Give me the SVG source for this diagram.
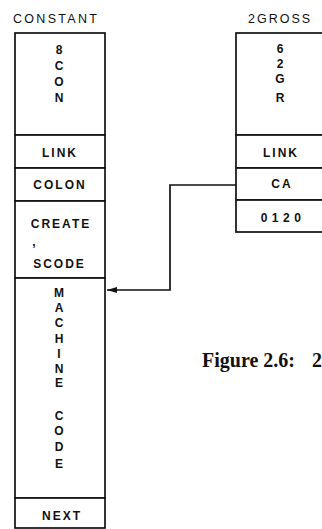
<svg xmlns="http://www.w3.org/2000/svg" width="322" height="529" viewBox="0 0 322 529">
<style>
.box{fill:#fff;stroke:#111;stroke-width:1.7}
.t{font-family:"Liberation Sans",Arial,sans-serif;font-weight:bold;font-size:12px;fill:#111;text-anchor:middle;letter-spacing:2px}
.v{font-family:"Liberation Sans",Arial,sans-serif;font-weight:bold;font-size:12px;fill:#111;text-anchor:middle}
.h{font-family:"Liberation Sans",Arial,sans-serif;font-size:12.5px;fill:#111;letter-spacing:2.3px}
.c{fill:none;stroke:#111;stroke-width:1.7}
.cap{font-family:"Liberation Serif","Times New Roman",serif;font-weight:bold;font-size:20px;fill:#111}
</style>
<defs>
<marker id="ah" viewBox="0 0 10 6" refX="10" refY="3" markerWidth="10" markerHeight="6" orient="auto" markerUnits="userSpaceOnUse">
<path d="M0,0 L10,3 L0,6 z" fill="#111"/>
</marker>
</defs>
<rect width="322" height="529" fill="#fff"/>

<g id="constant">
<text class="h" x="13" y="22.5">CONSTANT</text>
<rect class="box" x="15" y="33" width="90" height="102"/>
<text class="v" x="59" y="54">8</text>
<text class="v" x="59" y="70">C</text>
<text class="v" x="59" y="86">O</text>
<text class="v" x="59" y="102">N</text>
<rect class="box" x="15" y="135" width="90" height="33"/>
<text class="t" x="60" y="157">LINK</text>
<rect class="box" x="15" y="168" width="90" height="33"/>
<text class="t" x="60" y="189">COLON</text>
<rect class="box" x="15" y="201" width="90" height="77"/>
<text class="t" x="61" y="227.5">CREATE</text>
<text class="v" x="34" y="246">,</text>
<text class="t" x="59.5" y="267.5">SCODE</text>
<rect class="box" x="15" y="278" width="90" height="220"/>
<text class="v" x="59" y="297">M</text>
<text class="v" x="59" y="312">A</text>
<text class="v" x="59" y="327">C</text>
<text class="v" x="59" y="343">H</text>
<text class="v" x="59" y="358">I</text>
<text class="v" x="59" y="373">N</text>
<text class="v" x="59" y="387">E</text>
<text class="v" x="59" y="420">C</text>
<text class="v" x="59" y="435">O</text>
<text class="v" x="59" y="451">D</text>
<text class="v" x="59" y="468">E</text>
<rect class="box" x="15" y="498" width="90" height="30"/>
<text class="t" x="62" y="520">NEXT</text>
</g>

<g id="twogross">
<text class="h" x="248" y="22.5" style="letter-spacing:2px">2GROSS</text>
<rect class="box" x="236" y="33" width="100" height="102"/>
<text class="v" x="280" y="53">6</text>
<text class="v" x="280" y="68">2</text>
<text class="v" x="280" y="83">G</text>
<text class="v" x="280" y="102">R</text>
<rect class="box" x="236" y="135" width="100" height="33"/>
<text class="t" x="281" y="157">LINK</text>
<rect class="box" x="236" y="168" width="100" height="32"/>
<text class="t" x="282" y="188">CA</text>
<rect class="box" x="236" y="200" width="100" height="32"/>
<text class="t" x="283" y="221.5" style="letter-spacing:4.5px">0120</text>
</g>

<g id="connectors">
<path class="c" d="M236,185 H170 V290 H107" marker-end="url(#ah)"/>
</g>

<text class="cap" x="202" y="367">Figure 2.6:<tspan x="312">2</tspan></text>
</svg>
